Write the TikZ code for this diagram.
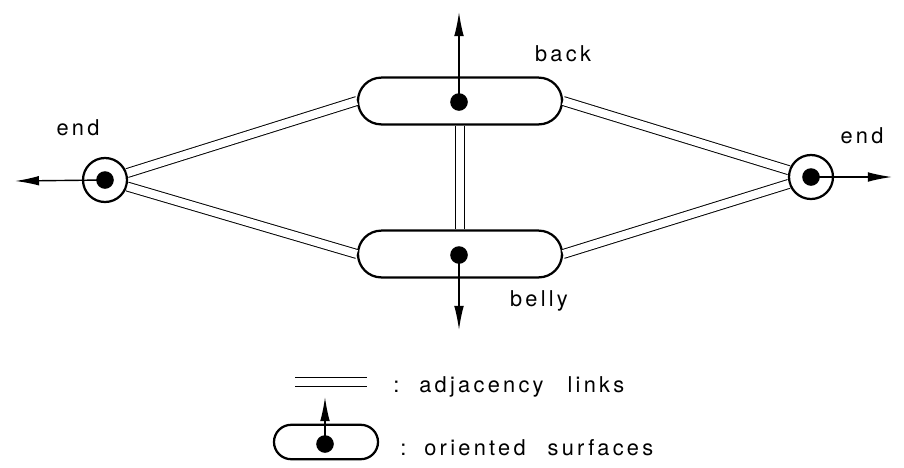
\documentclass[tikz,border=0pt]{standalone}
\usepackage{fontspec}
\setmainfont{TeX Gyre Heros}
\usetikzlibrary{arrows.meta,shapes.misc}

\begin{document}
\begin{tikzpicture}[
      x=0.025cm, y=-0.025cm,
      font=\fontsize{15.5}{18}\selectfont\addfontfeature{LetterSpace=15},
      sbox/.style={draw, rounded rectangle, line width=1.6pt,
                   minimum width=5.1cm, minimum height=1.17cm, inner sep=0pt},
      ebox/.style={draw, circle, line width=1.6pt,
                   minimum size=1.1cm, inner sep=0pt},
      sdot/.style={fill, circle, minimum size=0.44cm, inner sep=0pt},
      link/.style={double, double distance=2mm, line width=0.7pt},
      arr/.style={-{Latex[length=6mm, width=2.4mm]}, line width=1pt},
    ]
      \useasboundingbox (0,0) rectangle (904,468);

      % Surfaces
      \node[sbox] (back)  at (460,101) {};
      \node[sbox] (belly) at (460,254) {};
      \node[sdot] (backdot)  at (459,102) {};
      \node[sdot] (bellydot) at (459,255) {};

      % Ends
      \node[ebox] (endl) at (105,180) {};
      \node[ebox] (endr) at (811,177) {};
      \node[sdot] (endldot) at (105,180) {};
      \node[sdot] (endrdot) at (811,177) {};

      % Labels
      \node (lback)  at (563,54)  {back};
      \node (lbelly) at (539,301) {belly};
      \node (lendl)  at (78,128)  {end};
      \node (lendr)  at (862,136) {end};

      % Adjacency links
      \draw[link] (endl) -- (back.west);
      \draw[link] (endl) -- (belly.west);
      \draw[link] (endr) -- (back.east);
      \draw[link] (endr) -- (belly.east);
      \draw[link] (back.south) -- (belly.north);

      % Orientations
      \coordinate (backtip)  at (459,12);
      \coordinate (bellytip) at (459,330);
      \coordinate (endltip)  at (15,181);
      \coordinate (endrtip)  at (892,177);
      \draw[arr] (backdot.center) -- (backtip);
      \draw[arr] (bellydot.center) -- (bellytip);
      \draw[arr] (endldot.center) -- (endltip);
      \draw[arr] (endrdot.center) -- (endrtip);

      % Legend
      \coordinate (keya) at (295,382);
      \coordinate (keyb) at (367,382);
      \draw[link] (keya) -- (keyb);
      \node[anchor=base west, inner sep=0pt] (klink) at (393,392)
            {:\hspace{0.5cm}adjacency\hspace{0.6cm}links};
      \node[sbox, minimum width=2.6cm, minimum height=0.86cm] (ksurf) at (326,442) {};
      \node[sdot] (ksurfdot) at (325,444) {};
      \coordinate (ksurftip) at (325,397);
      \draw[arr] (ksurfdot.center) -- (ksurftip);
      \node[anchor=base west, inner sep=0pt] (ksurface) at (400,455)
            {:\hspace{0.45cm}oriented\hspace{0.55cm}surfaces};
    \end{tikzpicture}
\end{document}
